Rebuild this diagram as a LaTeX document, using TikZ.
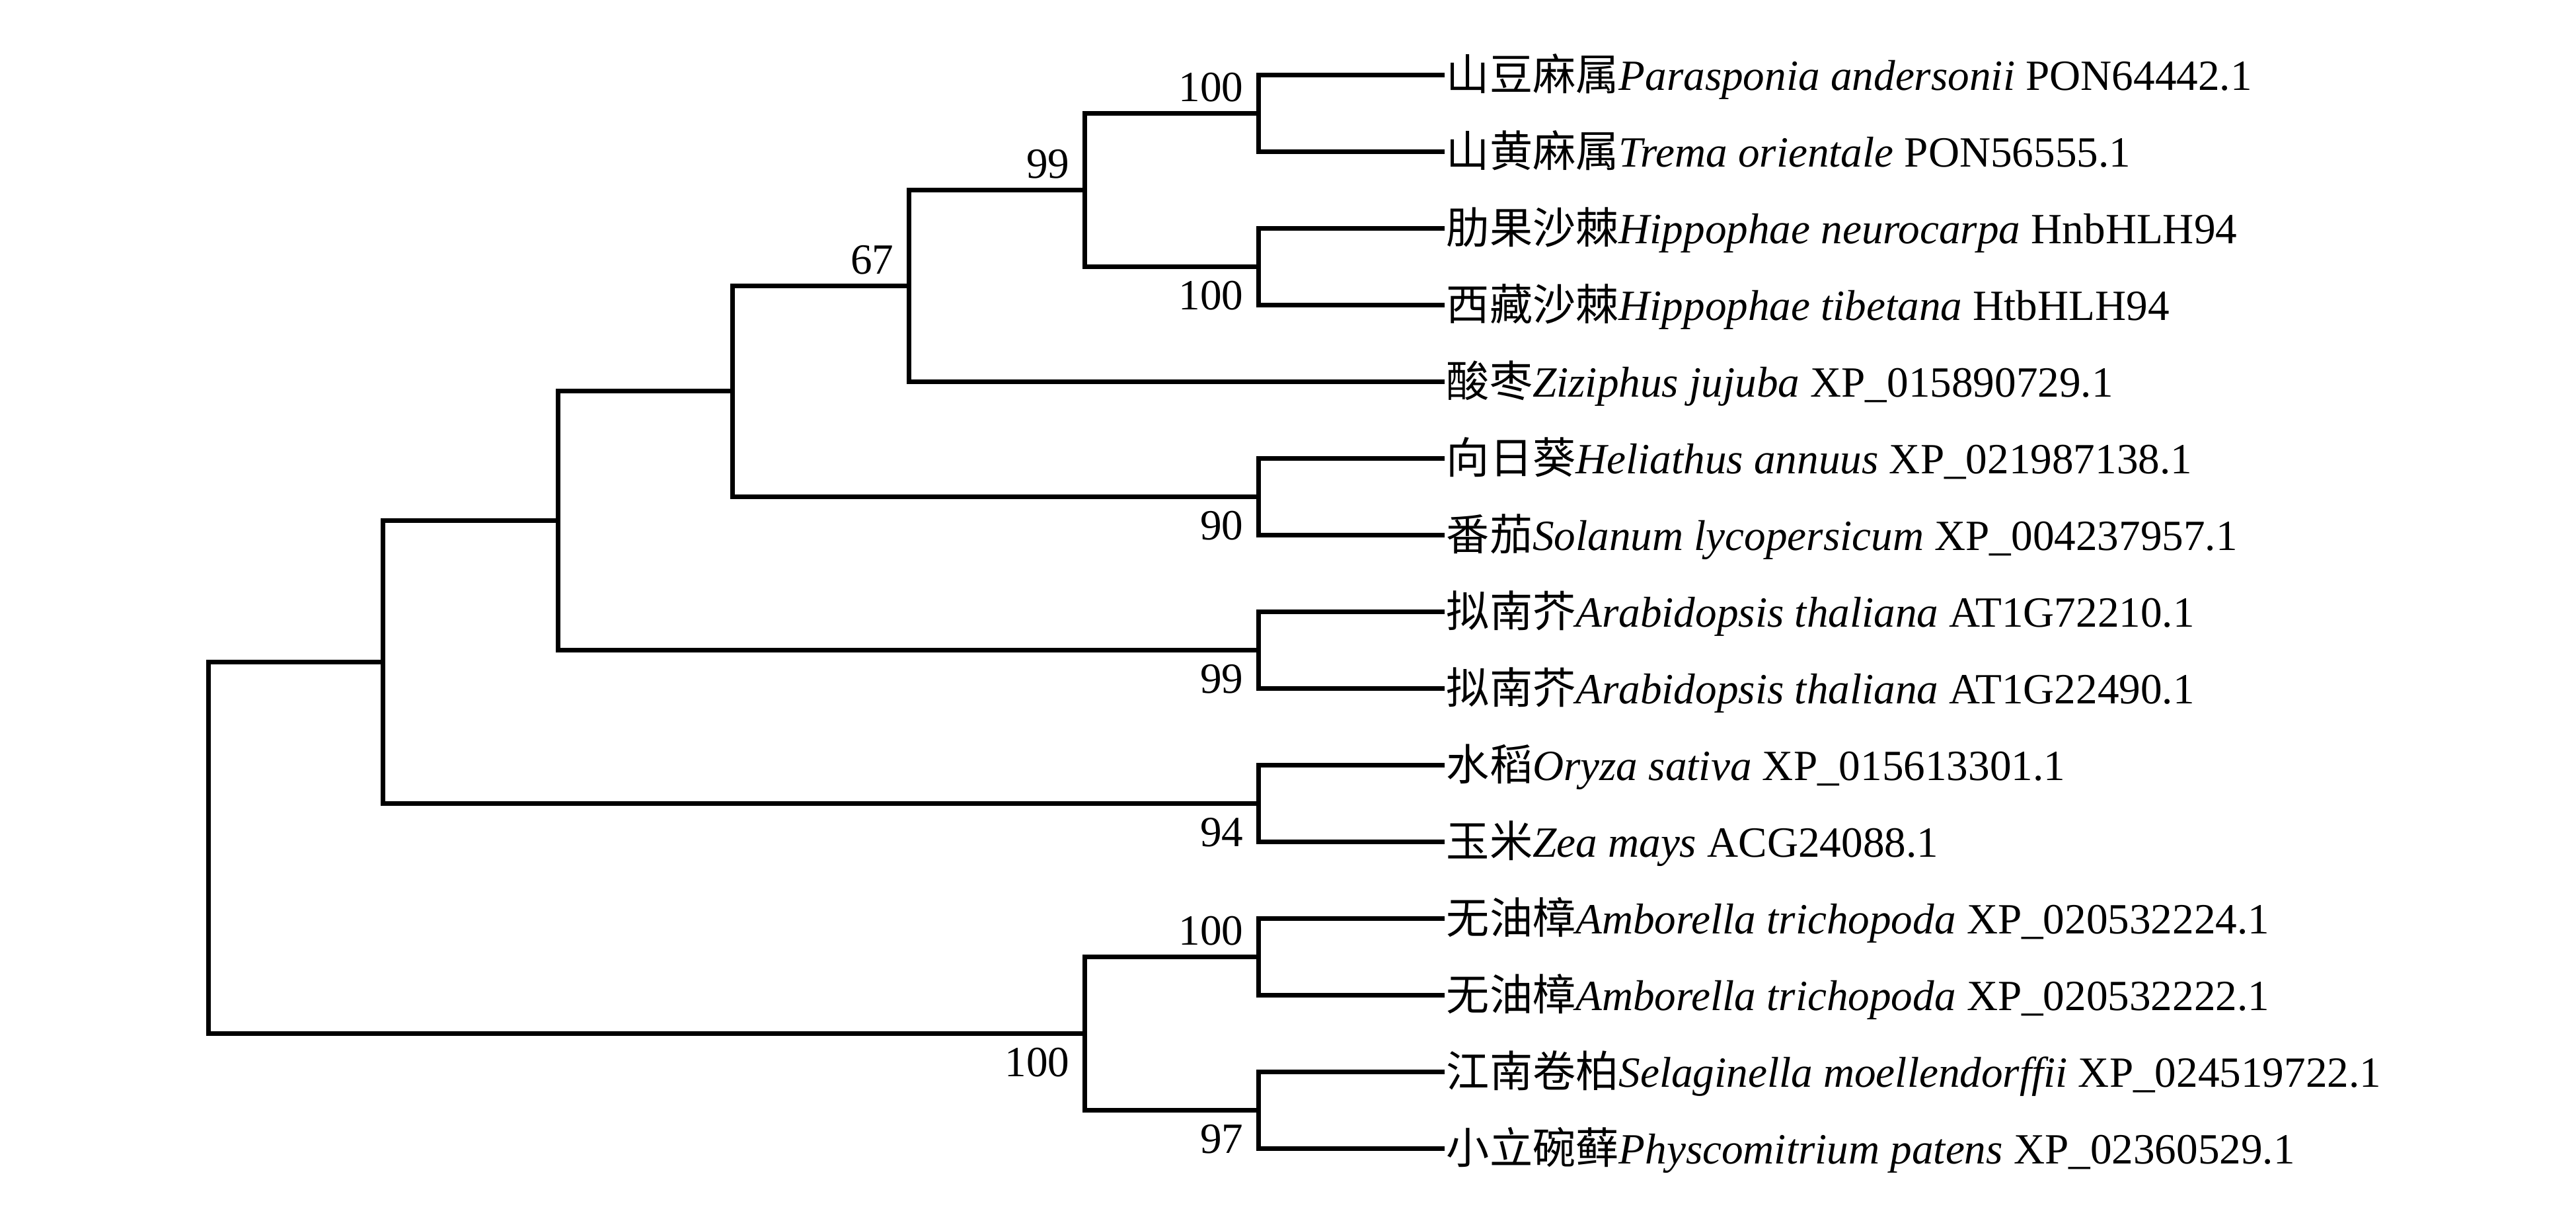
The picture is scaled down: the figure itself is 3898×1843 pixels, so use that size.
\documentclass[tikz,border=0pt]{standalone}
\usepackage{fontspec}
\setmainfont{Liberation Serif}
\newfontfamily\cjk{Noto Sans CJK SC}
\begin{document}
\begin{tikzpicture}[x=0.25pt,y=-0.25pt,
  branch/.style={line width=1.75pt,line join=miter},
  leaf/.style={anchor=base west,inner sep=0pt,xshift=0.5pt,yshift=-5.75pt,font=\fontsize{16.3}{19}\selectfont},
  bsabove/.style={anchor=base east,inner sep=0pt,xshift=-5.5pt,yshift=4.5pt,font=\fontsize{16.3}{19}\selectfont},
  bsbelow/.style={anchor=base east,inner sep=0pt,xshift=-5.5pt,yshift=-16.25pt,font=\fontsize{16.3}{19}\selectfont}]
\useasboundingbox (0,0) rectangle (3898,1843);
% leaves
\coordinate (L1) at (2186,113);
\coordinate (L2) at (2186,229);
\coordinate (L3) at (2186,345);
\coordinate (L4) at (2186,461);
\coordinate (L5) at (2186,577);
\coordinate (L6) at (2186,693);
\coordinate (L7) at (2186,809);
\coordinate (L8) at (2186,925);
\coordinate (L9) at (2186,1041);
\coordinate (L10) at (2186,1157);
\coordinate (L11) at (2186,1273);
\coordinate (L12) at (2186,1389);
\coordinate (L13) at (2186,1505);
\coordinate (L14) at (2186,1621);
\coordinate (L15) at (2186,1737);
% internal nodes
\coordinate (A) at (1904,171);
\coordinate (B) at (1904,403);
\coordinate (C) at (1641,287);
\coordinate (D) at (1375,432);
\coordinate (E) at (1904,751);
\coordinate (F) at (1108,591.5);
\coordinate (G) at (1904,983);
\coordinate (H) at (844,787);
\coordinate (I) at (1904,1215);
\coordinate (J) at (579,1001);
\coordinate (K) at (1904,1447);
\coordinate (Lc) at (1904,1679);
\coordinate (M) at (1641,1563);
\coordinate (R) at (315,1282);
% branches
\draw[branch] (L1) -| (A) |- (L2);
\draw[branch] (L3) -| (B) |- (L4);
\draw[branch] (A) -| (C) |- (B);
\draw[branch] (C) -| (D) |- (L5);
\draw[branch] (L6) -| (E) |- (L7);
\draw[branch] (D) -| (F) |- (E);
\draw[branch] (L8) -| (G) |- (L9);
\draw[branch] (F) -| (H) |- (G);
\draw[branch] (L10) -| (I) |- (L11);
\draw[branch] (H) -| (J) |- (I);
\draw[branch] (L12) -| (K) |- (L13);
\draw[branch] (L14) -| (Lc) |- (L15);
\draw[branch] (K) -| (M) |- (Lc);
\draw[branch] (J) -| (R) |- (M);
% leaf labels
\node[leaf] (t1) at (L1) {{\cjk 山豆麻属}\textit{Parasponia andersonii} PON64442.1};
\node[leaf] (t2) at (L2) {{\cjk 山黄麻属}\textit{Trema orientale} PON56555.1};
\node[leaf] (t3) at (L3) {{\cjk 肋果沙棘}\textit{Hippophae neurocarpa} HnbHLH94};
\node[leaf] (t4) at (L4) {{\cjk 西藏沙棘}\textit{Hippophae tibetana} HtbHLH94};
\node[leaf] (t5) at (L5) {{\cjk 酸枣}\textit{Ziziphus jujuba} XP\_015890729.1};
\node[leaf] (t6) at (L6) {{\cjk 向日葵}\textit{Heliathus annuus} XP\_021987138.1};
\node[leaf] (t7) at (L7) {{\cjk 番茄}\textit{Solanum lycopersicum} XP\_004237957.1};
\node[leaf] (t8) at (L8) {{\cjk 拟南芥}\textit{Arabidopsis thaliana} AT1G72210.1};
\node[leaf] (t9) at (L9) {{\cjk 拟南芥}\textit{Arabidopsis thaliana} AT1G22490.1};
\node[leaf] (t10) at (L10) {{\cjk 水稻}\textit{Oryza sativa} XP\_015613301.1};
\node[leaf] (t11) at (L11) {{\cjk 玉米}\textit{Zea mays} ACG24088.1};
\node[leaf] (t12) at (L12) {{\cjk 无油樟}\textit{Amborella trichopoda} XP\_020532224.1};
\node[leaf] (t13) at (L13) {{\cjk 无油樟}\textit{Amborella trichopoda} XP\_020532222.1};
\node[leaf] (t14) at (L14) {{\cjk 江南卷柏}\textit{Selaginella moellendorffii} XP\_024519722.1};
\node[leaf] (t15) at (L15) {{\cjk 小立碗藓}\textit{Physcomitrium patens} XP\_02360529.1};
% bootstrap values
\node[bsabove] (bA) at (A) {100};
\node[bsbelow] (bB) at (B) {100};
\node[bsabove] (bC) at (C) {99};
\node[bsabove] (bD) at (D) {67};
\node[bsbelow] (bE) at (E) {90};
\node[bsbelow] (bG) at (G) {99};
\node[bsbelow] (bI) at (I) {94};
\node[bsabove] (bK) at (K) {100};
\node[bsbelow] (bL) at (Lc) {97};
\node[bsbelow] (bM) at (M) {100};
\end{tikzpicture}
\end{document}
